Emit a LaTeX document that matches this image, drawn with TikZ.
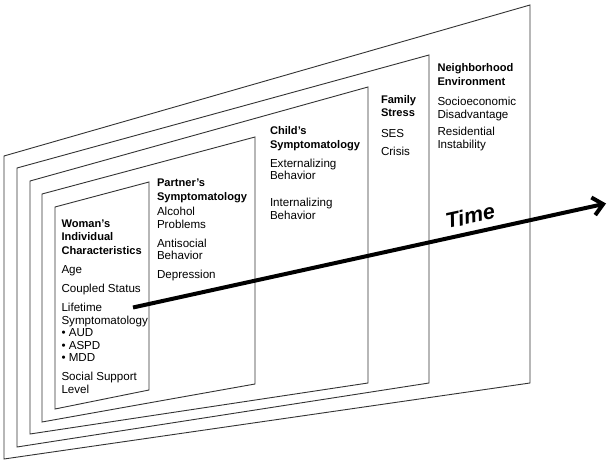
\documentclass[tikz,border=0pt]{standalone}
\usepackage{fontspec}
\setmainfont{Liberation Sans}
\usetikzlibrary{arrows.meta}
\tikzset{
  panel/.style={draw=black!80, line width=0.9bp},
  blocktext/.style={anchor=base west, inner sep=0pt, outer sep=0pt},
  timearrow/.style={line width=4bp, -{Straight Barb[length=10bp, width=18bp]}},
  timelabel/.style={inner sep=0pt, rotate=12, font=\fontsize{21.5bp}{24bp}\selectfont\bfseries\itshape}
}
\newcommand{\hd}[1]{{\fontsize{11.1bp}{12.5bp}\selectfont\bfseries #1}}
\newcommand{\blk}{\fontsize{11.6bp}{12.5bp}\selectfont}
\begin{document}
\begin{tikzpicture}[x=1bp, y=-1bp]
\fill[white] (0,0) rectangle (611,465);
\useasboundingbox (0,0) rectangle (611,465);
% panels
\draw[panel] (4,156) -- (530,5) -- (530,383) -- (4,459) -- cycle;
\draw[panel] (17,168) -- (429,55) -- (429,383) -- (17,447) -- cycle;
\draw[panel] (30,181) -- (368,87) -- (368,383) -- (30,434) -- cycle;
\draw[panel] (42,194) -- (255,137) -- (255,384) -- (42,422) -- cycle;
\draw[panel] (55,207) -- (149,182) -- (149,390) -- (55,409) -- cycle;
% texts
\node[blocktext] (woman) at (61.5,227.3) {\blk\begin{tabular}[t]{@{}l@{}}
\hd{Woman’s}\\[0.9bp]
\hd{Individual}\\[0.9bp]
\hd{Characteristics}\\[6.7bp]
Age\\[6.7bp]
Coupled Status\\[6.7bp]
Lifetime\\
Symptomatology\\
• AUD\\
• ASPD\\
• MDD\\[6.7bp]
Social Support\\
Level
\end{tabular}};
\node[blocktext] (partner) at (157,186.7) {\blk\begin{tabular}[t]{@{}l@{}}
\hd{Partner’s}\\[0.9bp]
\hd{Symptomatology}\\[3.2bp]
Alcohol\\
Problems\\[6.5bp]
Antisocial\\
Behavior\\[6bp]
Depression
\end{tabular}};
\node[blocktext] (child) at (270,135) {\blk\begin{tabular}[t]{@{}l@{}}
\hd{Child’s}\\[0.9bp]
\hd{Symptomatology}\\[6.5bp]
Externalizing\\
Behavior\\[14.2bp]
Internalizing\\
Behavior
\end{tabular}};
\node[blocktext] (family) at (381,103.3) {\blk\begin{tabular}[t]{@{}l@{}}
\hd{Family}\\[0.9bp]
\hd{Stress}\\[8.1bp]
SES\\[6.2bp]
Crisis
\end{tabular}};
\node[blocktext] (neigh) at (437.5,71.7) {\blk\begin{tabular}[t]{@{}l@{}}
\hd{Neighborhood}\\[0.9bp]
\hd{Environment}\\[8.2bp]
Socioeconomic\\
Disadvantage\\[4.9bp]
Residential\\
Instability
\end{tabular}};
% time arrow
\coordinate (tstart) at (133,307.5);
\coordinate (tend) at (606,203.5);
\draw[timearrow] (tstart) -- (tend);
\node[timelabel] (time) at (470,216) {Time};
\end{tikzpicture}
\end{document}
